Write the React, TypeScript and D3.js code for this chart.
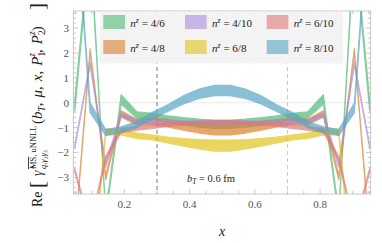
import React from 'react';
import * as d3 from 'd3';

// lattice momentum fractions x = k/21
const xGrid = [0.048, 0.095, 0.143, 0.19, 0.238, 0.286, 0.333, 0.381, 0.429, 0.476,
  0.524, 0.571, 0.619, 0.667, 0.714, 0.762, 0.81, 0.857, 0.905, 0.952];

// bands: lower / upper edge for each n^z ratio
const nz46Lo = [-0.35, 6.3, -4.6, -0.05, -0.62, -0.7, -0.8, -0.9, -0.98, -1.03, -1.03, -0.98, -0.9, -0.8, -0.7, -0.62, -0.05, -4.6, 6.3, -0.35];
const nz46Hi = [0.1, 6.7, -4.4, 0.33, -0.36, -0.42, -0.52, -0.6, -0.66, -0.7, -0.7, -0.66, -0.6, -0.52, -0.42, -0.36, 0.33, -4.4, 6.7, 0.1];
const nz48Lo = [-5.5, 2.02, -3.1, -0.57, -0.9, -0.88, -0.97, -1.1, -1.22, -1.3, -1.3, -1.22, -1.1, -0.97, -0.88, -0.9, -0.57, -3.1, 2.02, -5.5];
const nz48Hi = [-5.3, 2.18, -2.92, -0.32, -0.66, -0.62, -0.68, -0.76, -0.83, -0.87, -0.87, -0.83, -0.76, -0.68, -0.62, -0.66, -0.32, -2.92, 2.18, -5.3];
const nz410Lo = [-1.85, 1.5, -2.6, -0.55, -0.8, -0.83, -0.85, -0.86, -0.87, -0.87, -0.87, -0.87, -0.86, -0.85, -0.83, -0.8, -0.55, -2.6, 1.5, -1.85];
const nz410Hi = [-1.7, 1.65, -2.42, -0.42, -0.68, -0.71, -0.73, -0.74, -0.75, -0.75, -0.75, -0.75, -0.74, -0.73, -0.71, -0.68, -0.42, -2.42, 1.65, -1.7];
const nz68Lo = [-6.2, -7.9, -1.3, -1.3, -1.44, -1.5, -1.62, -1.75, -1.86, -1.95, -1.95, -1.86, -1.75, -1.62, -1.5, -1.44, -1.3, -1.3, -7.9, -6.2];
const nz68Hi = [-5.8, -7.5, -1.05, -1.06, -1.22, -1.3, -1.38, -1.44, -1.48, -1.5, -1.5, -1.48, -1.44, -1.38, -1.3, -1.22, -1.06, -1.05, -7.5, -5.8];
const nz610Lo = [-2.78, -5.1, -2.3, -1.2, -1.1, -1.03, -0.95, -0.9, -0.86, -0.85, -0.85, -0.86, -0.9, -0.95, -1.03, -1.1, -1.2, -2.3, -5.1, -2.78];
const nz610Hi = [-2.64, -4.9, -2.15, -1.03, -0.95, -0.88, -0.82, -0.77, -0.74, -0.72, -0.72, -0.74, -0.77, -0.82, -0.88, -0.95, -1.03, -2.15, -4.9, -2.64];
const nz810Lo = [8.1, -0.4, -1.32, -1.2, -1.0, -0.65, -0.35, -0.05, 0.17, 0.28, 0.28, 0.17, -0.05, -0.35, -0.65, -1.0, -1.2, -1.32, -0.4, 8.1];
const nz810Hi = [8.5, 0.0, -1.08, -0.97, -0.75, -0.38, -0.08, 0.28, 0.55, 0.7, 0.7, 0.55, 0.28, -0.08, -0.38, -0.75, -0.97, -1.08, 0.0, 8.5];

const labels = ['4/6', '4/8', '4/10', '6/8', '6/10', '8/10'];
const colors = ['#51ba77', '#da802d', '#aa8cdc', '#e2c31c', '#de7878', '#59a5c4'];
const bandsLo = [nz46Lo, nz48Lo, nz410Lo, nz68Lo, nz610Lo, nz810Lo];
const bandsHi = [nz46Hi, nz48Hi, nz410Hi, nz68Hi, nz610Hi, nz810Hi];

const yTicks = [-3, -2, -1, 0, 1, 2, 3];
const xTicks = [0.2, 0.4, 0.6, 0.8];

const W = 382, H = 243;
const left = 73.3, right = 370.7, top = 11, bottom = 194;

const App = () => {
  const x = d3.scaleLinear().domain([0.0435, 0.955]).range([left, right]);
  const y = d3.scaleLinear().domain([-3.67, 3.69]).range([bottom, top]);

  const area = (lo: number[], hi: number[]) =>
    d3.area<number>()
      .x((_, i) => x(xGrid[i]))
      .y0((_, i) => y(lo[i]))
      .y1((_, i) => y(hi[i]))(lo) || '';

  const xMinor = d3.range(0.05, 0.951, 0.05);
  const yMinor = d3.range(-3.6, 3.61, 0.2);
  const serif = 'Liberation Serif, serif';

  return (
    <svg width={W} height={H} style={{ position: 'absolute', left: 0, top: 0 }} fontFamily={serif}>
      <defs>
        <clipPath id="plot">
          <rect x={left} y={top} width={right - left} height={bottom - top} />
        </clipPath>
      </defs>
      <rect width={W} height={H} fill="#fff" />

      <line x1={left} x2={right} y1={y(0)} y2={y(0)} stroke="#e8e8e8" />
      <line x1={x(0.3)} x2={x(0.3)} y1={top} y2={bottom} stroke="#555" strokeDasharray="4,3" strokeWidth={0.8} />
      <line x1={x(0.7)} x2={x(0.7)} y1={top} y2={bottom} stroke="#bbb" strokeDasharray="4,3" strokeWidth={0.8} />

      <g clipPath="url(#plot)">
        {labels.map((l, i) => (
          <path key={l} d={area(bandsLo[i], bandsHi[i])} fill={colors[i]} stroke={colors[i]}
            strokeWidth={1.1} strokeLinejoin="round" opacity={0.7} />
        ))}
      </g>

      {/* frame and ticks */}
      <rect x={left} y={top} width={right - left} height={bottom - top} fill="none" stroke="#bbb" strokeWidth={0.8} />
      {xMinor.map(t => {
        const major = xTicks.some(m => Math.abs(m - t) < 1e-6);
        const len = major ? 5 : 3;
        return (
          <g key={'x' + t} stroke="#aaa" strokeWidth={0.6}>
            <line x1={x(t)} x2={x(t)} y1={bottom} y2={bottom - len} />
            <line x1={x(t)} x2={x(t)} y1={top} y2={top + len} />
          </g>
        );
      })}
      {yMinor.map(t => {
        const major = Math.abs(t - Math.round(t)) < 1e-6;
        const len = major ? 5 : 3;
        return (
          <g key={'y' + t} stroke="#aaa" strokeWidth={0.6}>
            <line x1={left} x2={left + len} y1={y(t)} y2={y(t)} />
            <line x1={right} x2={right - len} y1={y(t)} y2={y(t)} />
          </g>
        );
      })}
      {xTicks.map(t => (
        <text key={'xl' + t} x={x(t)} y={208} textAnchor="middle" fontSize={11} fill="#555">{t.toFixed(1)}</text>
      ))}
      {yTicks.map(t => (
        <text key={'yl' + t} x={69} y={y(t) + 4} textAnchor="end" fontSize={11} fill="#555">
          {t < 0 ? '\u2212' + Math.abs(t) : String(t)}
        </text>
      ))}

      {/* legend */}
      <rect x={100} y={11.5} width={243} height={52} fill="#f3f3f3" />
      {labels.map((l, i) => {
        const col = Math.floor(i / 2), row = i % 2;
        const sx = 103.3 + col * 81.7, sy = 15 + row * 25;
        return (
          <g key={'lg' + l}>
            <rect x={sx} y={sy} width={21.7} height={14} fill={colors[i]} opacity={0.6} />
            <text x={sx + 27} y={sy + 11.5} fontSize={11} fill="#222">
              <tspan fontStyle="italic">n</tspan>
              <tspan fontStyle="italic" fontSize={8} dy={-4}>z</tspan>
              <tspan dy={4}>{' = ' + l}</tspan>
            </text>
          </g>
        );
      })}

      <text x={211} y={181.5} textAnchor="middle" fontSize={10.5} fill="#222">
        <tspan fontStyle="italic">b</tspan>
        <tspan fontStyle="italic" fontSize={7.5} dy={2.5}>T</tspan>
        <tspan dy={-2.5}>{' = 0.6 fm'}</tspan>
      </text>

      <text x={222} y={236} textAnchor="middle" fontSize={14} fontStyle="italic" fill="#222">x</text>

      {/* y label */}
      <g transform="translate(42,207) rotate(-90)" fill="#222">
        <text x={0} y={0} fontSize={14}>Re</text>
        <text x={19} y={2} fontSize={21}>[</text>
        <text x={31} y={0} fontSize={14} fontStyle="italic">{'\u03b3\u0302'}</text>
        <text x={38} y={-6} fontSize={8.5}>
          <tspan textDecoration="overline">MS</tspan>, uNNLL
        </text>
        <text x={38} y={4} fontSize={8.5} fontStyle="italic">{'q,\u03b3\u2083\u03b3\u2085'}</text>
        <text x={83} y={0} fontSize={15}>
          (<tspan fontStyle="italic">b</tspan>
          <tspan fontSize={9.5} fontStyle="italic" dy={3}>T</tspan>
          <tspan dy={-3}>,</tspan>
          <tspan fontStyle="italic" dx={5}>{'\u03bc'}</tspan>,
          <tspan fontStyle="italic" dx={5}>x</tspan>,
          <tspan fontStyle="italic" dx={5}>P</tspan>
          <tspan fontSize={9.5} dy={3}>1</tspan>
          <tspan fontSize={9.5} fontStyle="italic" dx={-4.8} dy={-10}>z</tspan>
          <tspan dy={7}>,</tspan>
          <tspan fontStyle="italic" dx={5}>P</tspan>
          <tspan fontSize={9.5} dy={3}>2</tspan>
          <tspan fontSize={9.5} fontStyle="italic" dx={-4.8} dy={-10}>z</tspan>
          <tspan dy={7}>)</tspan>
        </text>
        <text x={197} y={2} fontSize={21}>]</text>
      </g>
    </svg>
  );
};

export default App;
